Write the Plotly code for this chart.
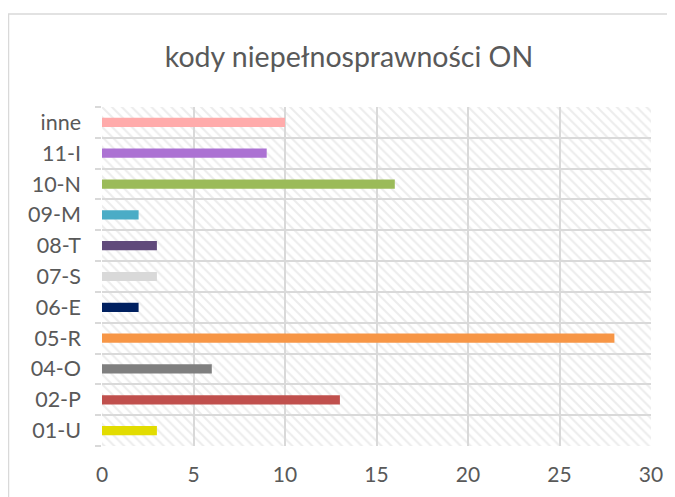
import plotly.graph_objects as go

categories = ["01-U", "02-P", "04-O", "05-R", "06-E", "07-S", "08-T", "09-M", "10-N", "11-I", "inne"]
values = [3, 13, 6, 28, 2, 3, 3, 2, 16, 9, 10]
colors = ["#E2DC00", "#C0504D", "#7F7F7F", "#F79646", "#002060", "#D9D9D9",
          "#604A7B", "#4BACC6", "#9BBB59", "#AC72D3", "#FFABAB"]
x_ticks = [0, 5, 10, 15, 20, 25, 30]
x_max = 30
title = "kody niepełnosprawności ON"

FONT = "Lato, Open Sans, sans-serif"
GRID = "#D9D9D9"
TXT = "#595959"

fig = go.Figure()

# hatched plot-area background
fig.add_trace(go.Bar(
    x=[x_max], y=[categories[len(categories) // 2]], base=0, orientation="h",
    width=len(categories),
    marker=dict(color="rgba(0,0,0,0)", line=dict(width=0),
                pattern=dict(shape="\\", fgcolor="#DADADA", size=7, solidity=0.3,
                             fillmode="overlay")),
    hoverinfo="skip", showlegend=False,
))

fig.add_trace(go.Bar(
    x=values, y=categories, orientation="h", width=0.3,
    marker=dict(color=colors, line=dict(width=0)),
    showlegend=False,
))

# page body has an 8px margin, so figure coords are offset by 8px
OFF = 8
W, H = 675 - OFF, 497 - OFF
L, T = 102 - OFF, 107 - OFF
R = W - (651 - OFF)
B = H - (446 - OFF)
pw, ph = W - L - R, H - T - B

fig.update_layout(
    width=W, height=H,
    margin=dict(l=L, r=R, t=T, b=B, autoexpand=False),
    paper_bgcolor="white", plot_bgcolor="white",
    barmode="overlay",
    title=dict(text=title, x=(349 - OFF) / W, xanchor="center",
               y=1 - (57 - OFF) / H, yanchor="middle",
               font=dict(family=FONT, size=28.5, color=TXT)),
    xaxis=dict(range=[0, x_max], tickvals=x_ticks, showgrid=True, gridcolor=GRID,
               gridwidth=2, zeroline=False, showline=False, ticks="",
               ticklabelstandoff=14, automargin=False,
               tickfont=dict(family=FONT, size=21, color=TXT), fixedrange=True),
    yaxis=dict(categoryorder="array", categoryarray=categories,
               range=[-0.5, len(categories) - 0.5],
               tickson="boundaries", ticks="outside", ticklen=6, tickcolor=GRID,
               tickwidth=2, showgrid=True, gridcolor=GRID, gridwidth=2,
               showline=False, zeroline=False, automargin=False,
               ticklabelstandoff=20,
               tickfont=dict(family=FONT, size=21.5, color=TXT), fixedrange=True),
    shapes=[dict(type="rect", xref="paper", yref="paper",
                 x0=(8 - OFF - L) / pw + 0.5 / pw, x1=(W + 10 - L) / pw,
                 y0=-(B + 10) / ph, y1=(H - B - (14 - OFF)) / ph,
                 line=dict(color=GRID, width=1.5), fillcolor="rgba(0,0,0,0)",
                 layer="below")],
)

fig.write_html("out.html")
